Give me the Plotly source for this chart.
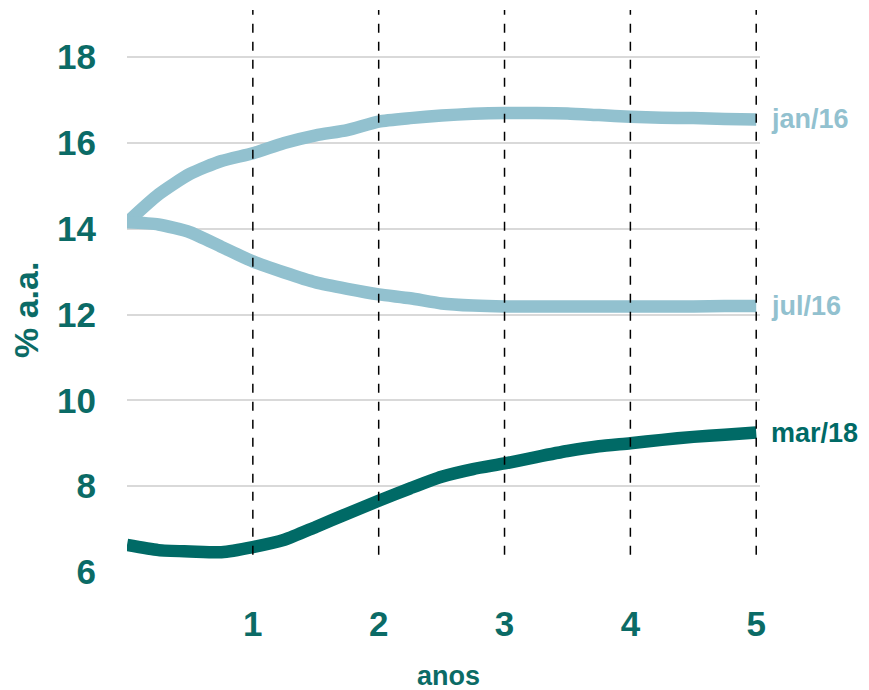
import plotly.graph_objects as go

years = [0, 0.25, 0.5, 0.75, 1, 1.25, 1.5, 1.75, 2, 2.25, 2.5, 2.75, 3,
         3.25, 3.5, 3.75, 4, 4.25, 4.5, 4.75, 5]
jan16 = [14.15, 14.8, 15.28, 15.58, 15.76, 16.0, 16.18, 16.3, 16.5, 16.58, 16.64,
         16.68, 16.7, 16.7, 16.69, 16.65, 16.61, 16.59, 16.58, 16.56, 16.55]
jul16 = [14.15, 14.1, 13.92, 13.58, 13.24, 12.98, 12.75, 12.6, 12.47, 12.38, 12.26,
         12.21, 12.19, 12.19, 12.19, 12.19, 12.19, 12.19, 12.19, 12.2, 12.2]
mar18 = [6.63, 6.51, 6.48, 6.46, 6.58, 6.75, 7.05, 7.36, 7.66, 7.95, 8.22, 8.4,
         8.53, 8.68, 8.82, 8.93, 9.0, 9.08, 9.15, 9.2, 9.25]

series_names = ["jan/16", "jul/16", "mar/18"]
series_values = [jan16, jul16, mar18]
series_colors = ["#92C1CF", "#92C1CF", "#006A66"]

x_ticks = [1, 2, 3, 4, 5]
y_ticks = [6, 8, 10, 12, 14, 16, 18]

TEAL = "#0B6B66"
FONT = "Liberation Sans"

# page body has an 8px default margin: compensate
OFF = 8
W, H = 869 - OFF, 690 - OFF
ML, MR, MT, MB = 127 - OFF, 109, 10 - OFF, 118
PW, PH = W - ML - MR, H - MT - MB

fig = go.Figure()
for xv in x_ticks:
    fig.add_shape(type="line", x0=xv, x1=xv, y0=6.4, y1=19.1, xref="x", yref="y",
                  line=dict(color="black", width=1.5, dash="dash"), layer="above")

for name, vals, col in zip(series_names, series_values, series_colors):
    fig.add_trace(go.Scatter(x=years, y=vals, mode="lines", name=name,
                             line=dict(color=col, width=12.5, shape="spline", smoothing=0.6),
                             showlegend=False, cliponaxis=False))
    fig.add_annotation(x=years[-1], y=vals[-1], text=f"<b>{name}</b>",
                       xref="x", yref="y", xanchor="left", yanchor="middle",
                       xshift=13, showarrow=False,
                       font=dict(family=FONT, size=27, color=col))

fig.update_layout(
    width=W, height=H,
    margin=dict(l=ML, r=MR, t=MT, b=MB),
    plot_bgcolor="white", paper_bgcolor="white",
    xaxis=dict(range=[0, 5.03], tickvals=x_ticks, ticktext=[f"<b>{t}</b>" for t in x_ticks],
               showgrid=False, zeroline=False, showline=False, ticks="",
               tickfont=dict(family=FONT, size=35, color=TEAL), ticklabelstandoff=28),
    yaxis=dict(range=[6, 19.1], tickvals=y_ticks, ticktext=[f"<b>{t}</b>" for t in y_ticks],
               showgrid=True, gridcolor="#D9D9D9", gridwidth=2, zeroline=False,
               showline=False, ticks="",
               tickfont=dict(family=FONT, size=35, color=TEAL), ticklabelstandoff=30),
)
fig.add_annotation(x=(448 - 127) / PW, y=-(676 - 572) / PH, xref="paper", yref="paper",
                   text="<b>anos</b>", showarrow=False, xanchor="center", yanchor="middle",
                   font=dict(family=FONT, size=27, color=TEAL))
fig.add_annotation(x=(26 - 127) / PW, y=(572 - 310) / PH, xref="paper", yref="paper",
                   text="<b>% a.a.</b>", showarrow=False, textangle=-90,
                   xanchor="center", yanchor="middle",
                   font=dict(family=FONT, size=34, color=TEAL))

fig.write_html("out.html")
